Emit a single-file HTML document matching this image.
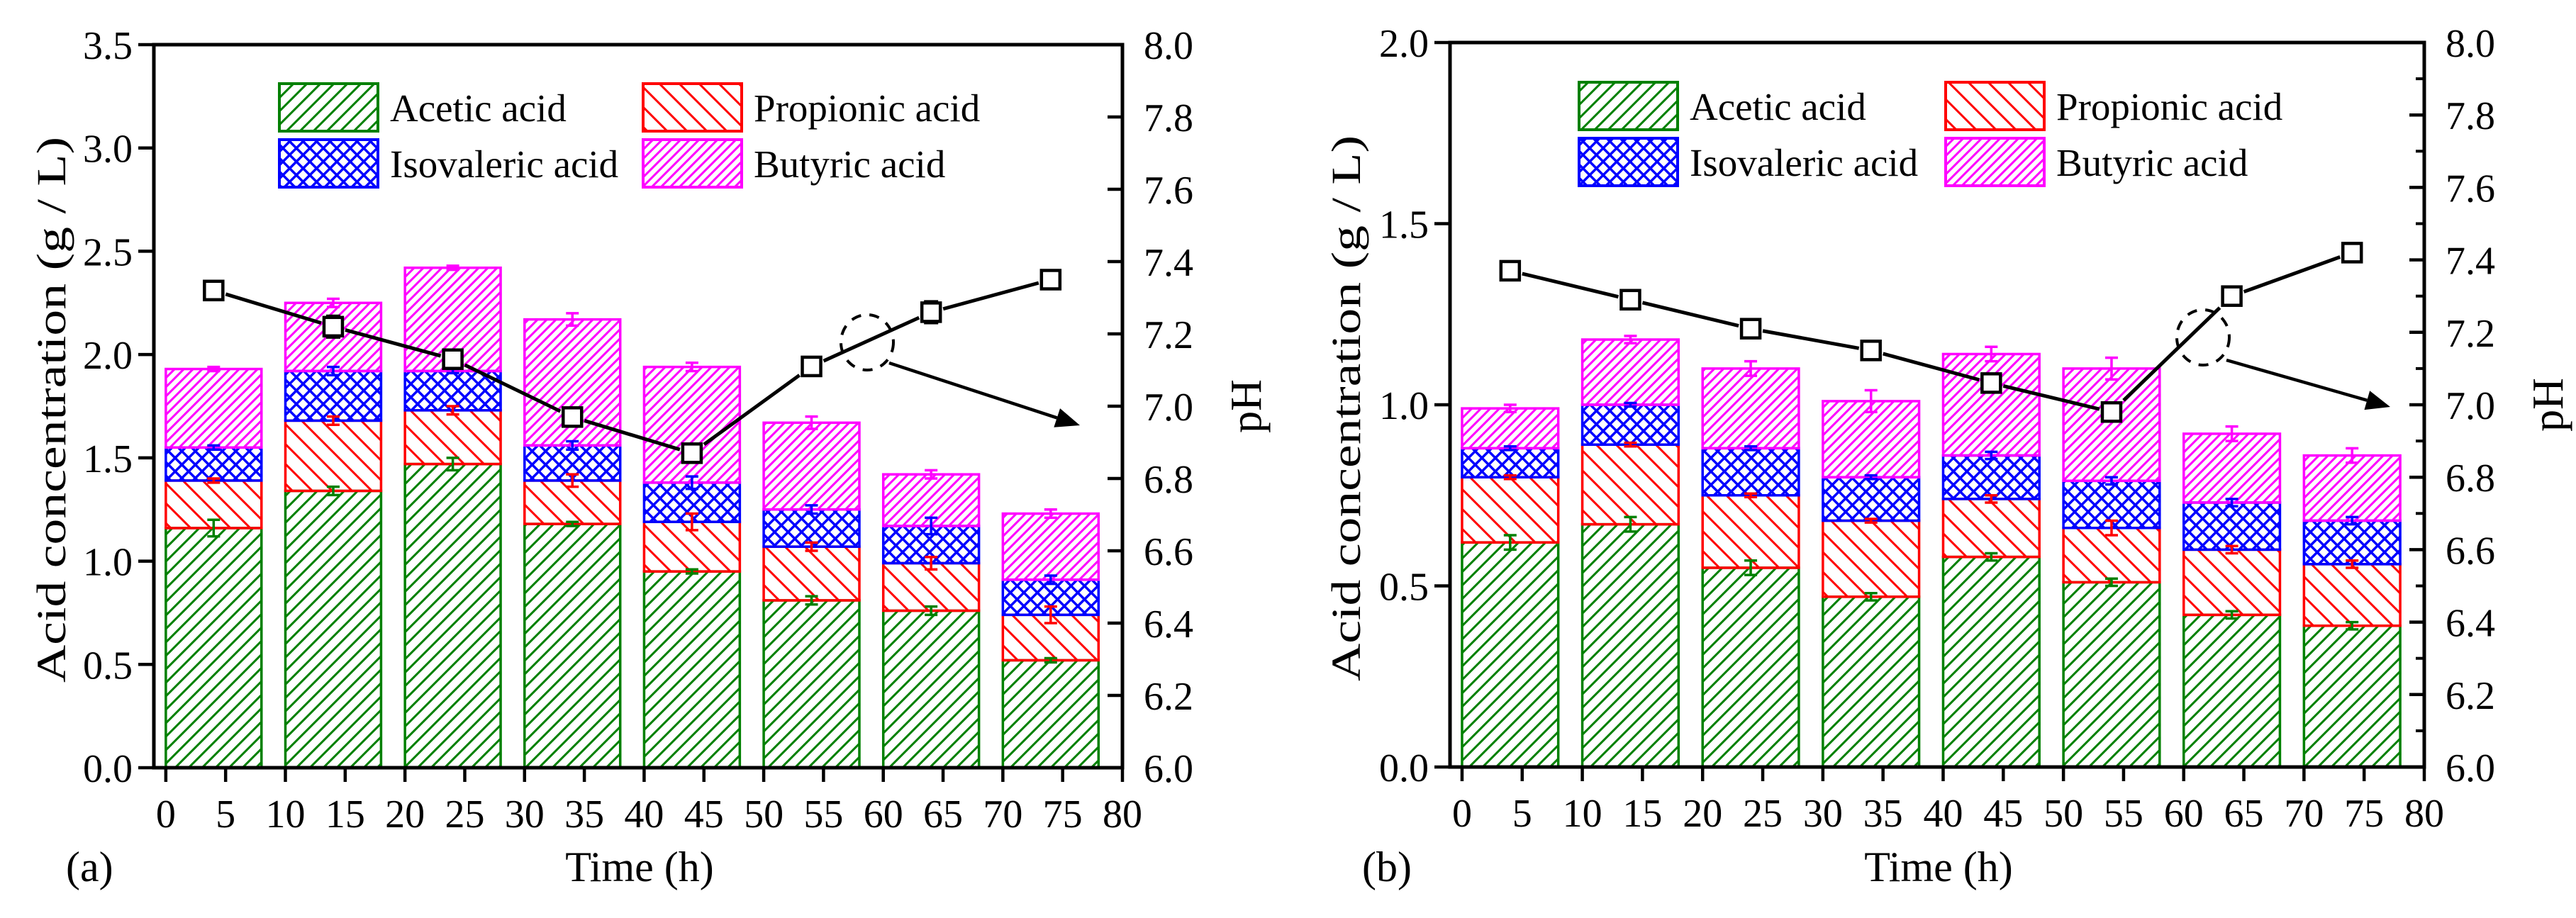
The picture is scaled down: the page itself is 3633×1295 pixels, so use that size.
<!DOCTYPE html>
<html><head><meta charset="utf-8">
<style>
html,body{margin:0;padding:0;background:#fff;}
svg{display:block;}
svg text{font-family:"Liberation Serif","DejaVu Serif",serif;}
</style></head>
<body>
<svg id="chart" width="3633" height="1295" viewBox="0 0 3633 1295" xmlns="http://www.w3.org/2000/svg" font-family="Liberation Serif, serif">
<defs>
<pattern id="pG" patternUnits="userSpaceOnUse" width="19" height="19"><path d="M-5,24 L24,-5 M-5,5 L5,-5 M14,24 L24,14" stroke="#008000" stroke-width="3"/></pattern>
<pattern id="pR" patternUnits="userSpaceOnUse" width="28" height="28"><path d="M-5,-5 L33,33 M-5,23 L5,33 M23,-5 L33,5" stroke="#ff0000" stroke-width="3"/></pattern>
<pattern id="pB" patternUnits="userSpaceOnUse" width="19" height="19"><path d="M-5,24 L24,-5 M-5,5 L5,-5 M14,24 L24,14 M-5,-5 L24,24 M-5,14 L5,24 M14,-5 L24,5" stroke="#0000ff" stroke-width="3.5"/></pattern>
<pattern id="pM" patternUnits="userSpaceOnUse" width="13" height="13"><path d="M-5,18 L18,-5 M-5,5 L5,-5 M8,18 L18,8" stroke="#ff00ff" stroke-width="3"/></pattern>
</defs>
</svg>
<script>
// Shared categories
const times = [4, 14, 24, 34, 44, 54, 64, 74];
const xTicks = [0,5,10,15,20,25,30,35,40,45,50,55,60,65,70,75,80];
const seriesNames = ["Acetic acid","Propionic acid","Isovaleric acid","Butyric acid"];
// Panel (a)
const aAcetic = [1.16,1.34,1.47,1.18,0.95,0.81,0.76,0.52];
const aPropionic = [0.23,0.34,0.26,0.21,0.24,0.26,0.23,0.22];
const aIsovaleric = [0.16,0.24,0.19,0.17,0.19,0.18,0.18,0.17];
const aButyric = [0.38,0.33,0.50,0.61,0.56,0.42,0.25,0.32];
const aAceticErr = [0.04,0.02,0.03,0.01,0.01,0.02,0.02,0.01];
const aPropionicErr = [0.01,0.02,0.02,0.03,0.04,0.02,0.03,0.04];
const aIsovalericErr = [0.01,0.02,0.01,0.02,0.03,0.02,0.04,0.02];
const aButyricErr = [0.01,0.02,0.01,0.03,0.02,0.03,0.02,0.02];
const aPH = [7.32,7.22,7.13,6.97,6.87,7.11,7.26,7.35];
const aPHErr = [0.01,0.03,0.02,0.01,0.02,0.01,0.03,0.01];
const aYTicks = ["0.0","0.5","1.0","1.5","2.0","2.5","3.0","3.5"];
// Panel (b)
const bAcetic = [0.62,0.67,0.55,0.47,0.58,0.51,0.42,0.39];
const bPropionic = [0.18,0.22,0.20,0.21,0.16,0.15,0.18,0.17];
const bIsovaleric = [0.08,0.11,0.13,0.12,0.12,0.13,0.13,0.12];
const bButyric = [0.11,0.18,0.22,0.21,0.28,0.31,0.19,0.18];
const bAceticErr = [0.02,0.02,0.02,0.01,0.01,0.01,0.01,0.01];
const bPropionicErr = [0.005,0.005,0.005,0.005,0.01,0.02,0.01,0.01];
const bIsovalericErr = [0.005,0.005,0.005,0.005,0.01,0.01,0.01,0.01];
const bButyricErr = [0.01,0.01,0.02,0.03,0.02,0.03,0.02,0.02];
const bPH = [7.37,7.29,7.21,7.15,7.06,6.98,7.30,7.42];
const bPHErr = [0.01,0.01,0.01,0.01,0.02,0.01,0.01,0.01];
const bYTicks = ["0.0","0.5","1.0","1.5","2.0"];
const pHTicks = ["6.0","6.2","6.4","6.6","6.8","7.0","7.2","7.4","7.6","7.8","8.0"];

const NS = "http://www.w3.org/2000/svg";
const svg = document.getElementById("chart");
function mk(tag, attrs, parent, text){
  const e = document.createElementNS(NS, tag);
  for (const k in attrs) e.setAttribute(k, attrs[k]);
  if (text !== undefined) { e.textContent = text; e.setAttribute("font-family", "Liberation Serif, DejaVu Serif, serif"); }
  (parent || svg).appendChild(e);
  return e;
}
const colors = ["#008000","#ff0000","#0000ff","#ff00ff"];
const pats = ["url(#pG)","url(#pR)","url(#pB)","url(#pM)"];

function panel(cfg){
  const g = mk("g", {});
  
  
  const L=cfg.L, R=cfg.R, T=cfg.T, B=cfg.B;
  const xs = t => L + (t + 1) * (R - L) / 81;
  const ys = v => B - v / cfg.yMax * (B - T);
  const yp = p => B - (p - 6) / 2 * (B - T);
  const series = cfg.series, errs = cfg.errs;
  for (let i = 0; i < times.length; i++){
    let base = 0;
    for (let s = 0; s < 4; s++){
      const v = series[s][i];
      const x0 = xs(times[i] - 4), x1 = xs(times[i] + 4);
      const r = mk("rect", {x:x0, y:ys(base+v), width:x1-x0, height:ys(base)-ys(base+v), fill:pats[s], stroke:colors[s], "stroke-width":3.5}, g);
      
      
      base += v;
    }
  }
  for (let i = 0; i < times.length; i++){
    let base = 0;
    for (let s = 0; s < 4; s++){
      base += series[s][i];
      const cx = xs(times[i]), e = errs[s][i];
      const eb = mk("path", {d:`M${cx},${ys(base-e)}V${ys(base+e)}M${cx-9},${ys(base-e)}h18M${cx-9},${ys(base+e)}h18`, stroke:colors[s], "stroke-width":3.5, fill:"none"}, g);
      
      
    }
  }
  const pts = times.map((t,i)=>[xs(t), yp(cfg.pH[i])]);
  for (let i = 0; i < pts.length-1; i++){
    const [x0,y0]=pts[i],[x1,y1]=pts[i+1];
    const dx=x1-x0, dy=y1-y0, d=Math.hypot(dx,dy);
    const tr = 17/Math.max(Math.abs(dx)/d,Math.abs(dy)/d) / d;
    const seg = mk("line", {x1:x0+dx*tr, y1:y0+dy*tr, x2:x1-dx*tr, y2:y1-dy*tr, stroke:"#000", "stroke-width":5}, g);
    
    
  }
  pts.forEach(([x,y],i)=>{
    const e = (yp(cfg.pH[i]-cfg.pHErr[i]) - yp(cfg.pH[i]+cfg.pHErr[i]))/2;
    const eb = mk("path", {d:`M${x},${y-e}V${y+e}M${x-10},${y-e}h20M${x-10},${y+e}h20`, stroke:"#000","stroke-width":3.5,fill:"none"}, g);
    
    
    const m = mk("rect", {x:x-13, y:y-13, width:26, height:26, fill:"#fff", stroke:"#000", "stroke-width":4.5}, g);
    
    
  });
  const el = mk("ellipse", {cx:cfg.ell[0], cy:cfg.ell[1], rx:37, ry:39, fill:"none", stroke:"#000", "stroke-width":4, "stroke-dasharray":"14 12"}, g);
  
  
  const [ax0,ay0,ax1,ay1] = cfg.arrow;
  const adx=ax1-ax0, ady=ay1-ay0, ad=Math.hypot(adx,ady), ux=adx/ad, uy=ady/ad;
  const bx=ax1-ux*34, by=ay1-uy*34;
  const arr = mk("line", {x1:ax0,y1:ay0,x2:bx,y2:by,stroke:"#000","stroke-width":4.5}, g);
  
  
  const ah = mk("polygon", {points:`${ax1},${ay1} ${bx-uy*14},${by+ux*14} ${bx+uy*14},${by-ux*14}`, fill:"#000"}, g);
  
  
  const fr = mk("rect", {x:L, y:T, width:R-L, height:B-T, fill:"none", stroke:"#000", "stroke-width":5}, g);
  
  
  xTicks.forEach(t=>{
    const x = xs(t);
    mk("line",{x1:x,y1:B,x2:x,y2:B+20,stroke:"#000","stroke-width":4.5},g);
    const tl = mk("text",{x:x,y:B+84,"font-size":56,"text-anchor":"middle"},g,String(t));
    
    
  });
  cfg.yTicks.forEach(s=>{
    const y = ys(parseFloat(s));
    mk("line",{x1:L-22,y1:y,x2:L,y2:y,stroke:"#000","stroke-width":4.5},g);
    const tl = mk("text",{x:L-30,y:y+20,"font-size":56,"text-anchor":"end"},g,s);
    
    
  });
  pHTicks.forEach(s=>{
    const y = yp(parseFloat(s));
    mk("line",{x1:R-21,y1:y,x2:R,y2:y,stroke:"#000","stroke-width":4.5},g);
    const tl = mk("text",{x:R+30,y:y+20,"font-size":56},g,s);
    
    
  });
  if (cfg.minor){
    for (let k=1;k<20;k+=2){ const y = yp(6+k*0.1); mk("line",{x1:R-12,y1:y,x2:R,y2:y,stroke:"#000","stroke-width":4},g); }
  }
  const yt = mk("text",{x:0,y:0,"font-size":58,"text-anchor":"middle",transform:`translate(${cfg.yTitleX},${(T+B)/2+5}) rotate(-90)`,textLength:770,lengthAdjust:"spacingAndGlyphs"},g,"Acid concentration (g / L)");
  
  
  const pt = mk("text",{x:0,y:0,"font-size":62,"text-anchor":"middle",transform:`translate(${R+195},${(T+B)/2}) rotate(-90)`},g,"pH");
  
  
  const xt = mk("text",{x:(L+R)/2+2,y:1243,"font-size":60,"text-anchor":"middle"},g,"Time (h)");
  
  
  const pl = mk("text",{x:L-124,y:1243,"font-size":60},g,cfg.label);
  
  
  const lg = mk("g",{},g);
  
  
  const lx = [cfg.leg[0], cfg.leg[1]], ly = [cfg.leg[2], cfg.leg[3]];
  for (let s=0;s<4;s++){
    const cx = lx[s%2], cy = ly[Math.floor(s/2)];
    const e = mk("g",{},lg);
    
    
    mk("rect",{x:cx,y:cy,width:139,height:67,fill:pats[s],stroke:colors[s],"stroke-width":4},e);
    mk("text",{x:cx+156,y:cy+53,"font-size":55},e,seriesNames[s]);
  }
}

panel({name:"panel-a", label:"(a)", L:217, R:1583, T:63, B:1083, yMax:3.5, yTicks:aYTicks,
  series:[aAcetic,aPropionic,aIsovaleric,aButyric], errs:[aAceticErr,aPropionicErr,aIsovalericErr,aButyricErr],
  pH:aPH, pHErr:aPHErr, ell:[1223,483], arrow:[1254,512,1523,600], yTitleX:92, minor:false,
  leg:[394,907,118,197]});
panel({name:"panel-b", label:"(b)", L:2045, R:3419, T:60, B:1082, yMax:2.0, yTicks:bYTicks,
  series:[bAcetic,bPropionic,bIsovaleric,bButyric], errs:[bAceticErr,bPropionicErr,bIsovalericErr,bButyricErr],
  pH:bPH, pHErr:bPHErr, ell:[3107,476], arrow:[3140,508,3371,574], yTitleX:1918, minor:true,
  leg:[2227,2744,116,195]});
</script>
</body></html>
